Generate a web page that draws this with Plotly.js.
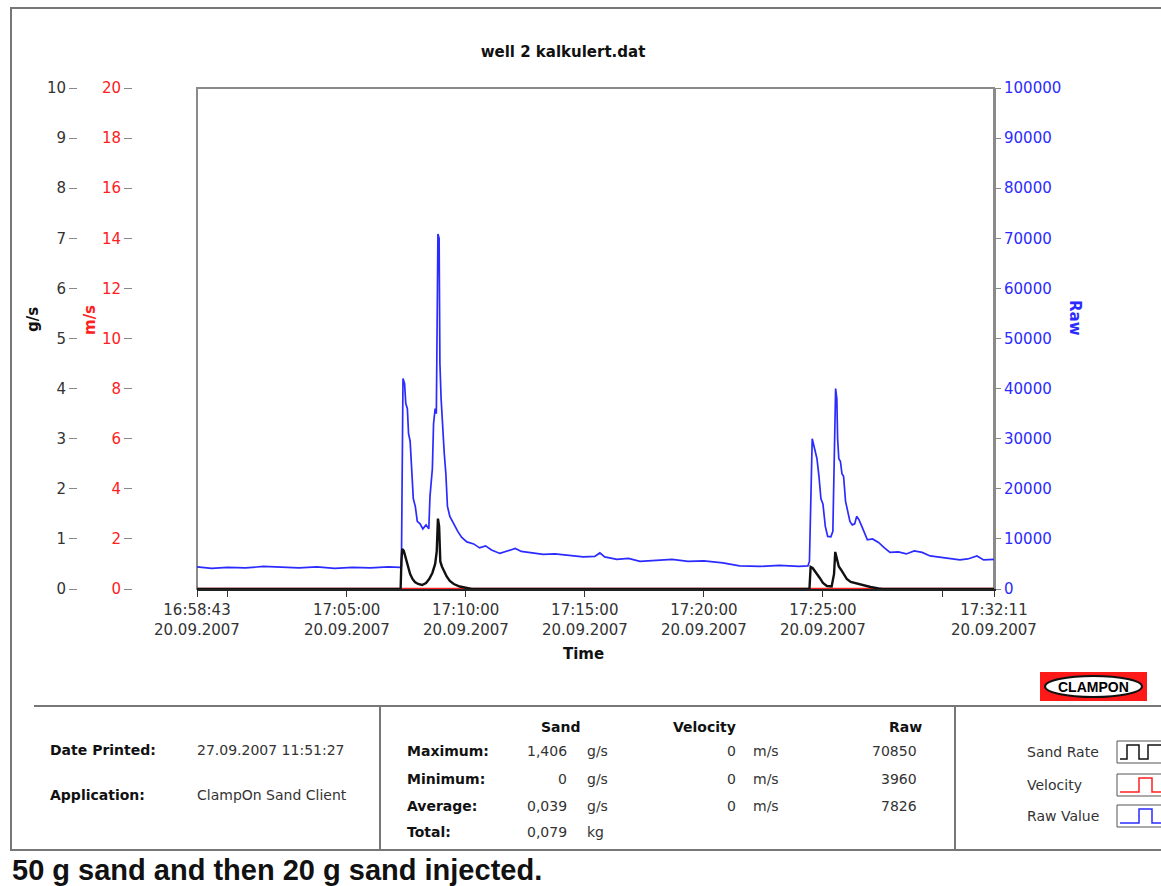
<!DOCTYPE html>
<html><head><meta charset="utf-8">
<script src="https://cdn.plot.ly/plotly-3.0.1.min.js"></script>
<style>body{margin:0;background:#fff}#chart{width:1161px;height:886px}</style>
</head><body><div id="chart"></div>
<script>
const DAY = '2007-09-20 ';
const chartTitle = 'well 2 kalkulert.dat';
const caption = '50 g sand and then 20 g sand injected.';

const rawTimes = ['16:58:43','16:59:20','17:00:00','17:00:45','17:01:30','17:02:15','17:03:00','17:03:45','17:04:30','17:05:15','17:06:00','17:06:45','17:07:15','17:07:18','17:07:20','17:07:22','17:07:26','17:07:29','17:07:33','17:07:36','17:07:40','17:07:44','17:07:48','17:07:53','17:07:58','17:08:05','17:08:12','17:08:20','17:08:27','17:08:30','17:08:36','17:08:39','17:08:43','17:08:46','17:08:48','17:08:50','17:08:53','17:08:55','17:08:58','17:09:02','17:09:06','17:09:10','17:09:14','17:09:20','17:09:26','17:09:33','17:09:40','17:09:50','17:10:03','17:10:20','17:10:35','17:10:50','17:11:05','17:11:26','17:11:45','17:12:05','17:12:20','17:12:50','17:13:15','17:13:45','17:14:15','17:14:56','17:15:25','17:15:38','17:15:50','17:16:21','17:16:50','17:17:19','17:18:00','17:18:40','17:19:20','17:20:00','17:20:48','17:21:30','17:22:21','17:23:10','17:24:00','17:24:22','17:24:26','17:24:30','17:24:33','17:24:36','17:24:40','17:24:45','17:24:50','17:24:55','17:25:00','17:25:06','17:25:12','17:25:20','17:25:25','17:25:29','17:25:32','17:25:35','17:25:37','17:25:40','17:25:44','17:25:48','17:25:52','17:25:57','17:26:02','17:26:08','17:26:14','17:26:20','17:26:25','17:26:31','17:26:38','17:26:45','17:26:52','17:27:05','17:27:20','17:27:35','17:27:49','17:28:10','17:28:30','17:28:50','17:29:10','17:29:30','17:30:03','17:30:25','17:30:45','17:31:05','17:31:28','17:31:45','17:32:11'];
const rawValues = [4400,4100,4300,4200,4500,4300,4200,4400,4100,4300,4200,4400,4300,4500,39000,42000,41000,37000,36000,31000,29500,24000,18000,16500,13500,13000,12000,12800,12000,18500,24000,33000,36000,35000,60000,70850,70000,45000,38000,31500,27000,23000,16500,14500,13500,12500,11500,10300,9400,9000,8200,8600,7800,7100,7600,8100,7500,7200,6900,7000,6700,6400,6500,7200,6400,5900,6100,5500,5700,5900,5500,5600,5200,4600,4500,4700,4500,4600,5500,18000,30000,29000,27500,26000,22500,18000,17000,12500,10500,10400,11500,25000,40000,38000,30000,26000,25500,23000,22500,17500,15800,13500,12800,13000,14500,13800,12500,11000,9800,10000,9300,8200,7300,7400,7000,7600,7300,6600,6200,6000,5800,6000,6600,5800,5900];

const sandTimes = ['16:58:43','17:07:16','17:07:18','17:07:20','17:07:24','17:07:29','17:07:34','17:07:40','17:07:46','17:07:52','17:08:00','17:08:10','17:08:20','17:08:28','17:08:36','17:08:43','17:08:47','17:08:50','17:08:53','17:08:56','17:09:00','17:09:06','17:09:12','17:09:20','17:09:30','17:09:45','17:10:05','17:10:15','17:24:26','17:24:29','17:24:34','17:24:40','17:24:46','17:24:52','17:25:00','17:25:10','17:25:22','17:25:28','17:25:31','17:25:35','17:25:40','17:25:46','17:25:52','17:26:00','17:26:10','17:26:20','17:26:32','17:26:45','17:27:00','17:27:20','17:27:30','17:32:11'];
const sandValues = [0,0,0.55,0.80,0.76,0.6,0.45,0.3,0.2,0.14,0.1,0.08,0.12,0.2,0.32,0.5,0.75,1.406,1.25,0.55,0.45,0.33,0.25,0.16,0.1,0.05,0.02,0,0,0.44,0.42,0.36,0.3,0.22,0.12,0.06,0.05,0.3,0.74,0.6,0.45,0.38,0.3,0.2,0.14,0.12,0.1,0.06,0.04,0.01,0,0];

const velocityTimes = ['16:58:43','17:32:11'];
const velocityValues = [0,0];

const tickTimes = ['16:58:43','17:00:00','17:05:00','17:10:00','17:15:00','17:20:00','17:25:00','17:30:00','17:32:11'];
const tickTimeLabels = ['16:58:43','','17:05:00','17:10:00','17:15:00','17:20:00','17:25:00','','17:32:11'];
const tickDateLabels = ['20.09.2007','','20.09.2007','20.09.2007','20.09.2007','20.09.2007','20.09.2007','','20.09.2007'];

const infoLabels = ['Date Printed:','Application:'];
const infoValues = ['27.09.2007 11:51:27','ClampOn Sand Client'];
const statHeaders = ['Sand','Velocity','Raw'];
const statRows = ['Maximum:','Minimum:','Average:','Total:'];
const sandStats = ['1,406','0','0,039','0,079'];
const sandUnits = ['g/s','g/s','g/s','kg'];
const velocityStats = ['0','0','0'];
const velocityUnits = ['m/s','m/s','m/s'];
const rawStats = ['70850','3960','7826'];
const legendNames = ['Sand Rate','Velocity','Raw Value'];

const BLUE = '#2b2bff', RED = '#ff2020', BLACK = '#111111';
const W = 1161, H = 886, T = 88, B = 589;
const px = x => x / W;
const py = y => (B - y) / (B - T);
const FONT = 'DejaVu Sans';

const traces = [
  {x: rawTimes.map(t => DAY + t), y: rawValues, type: 'scatter', mode: 'lines', yaxis: 'y', line: {color: BLUE, width: 1.7}, name: 'Raw Value'},
  {x: velocityTimes.map(t => DAY + t), y: velocityValues, type: 'scatter', mode: 'lines', yaxis: 'y2', line: {color: RED, width: 2.4}, name: 'Velocity'},
  {x: sandTimes.map(t => DAY + t), y: sandValues, type: 'scatter', mode: 'lines', yaxis: 'y3', line: {color: BLACK, width: 2.4}, name: 'Sand Rate'}
];

const ann = [];
const shapes = [];
function txt(x, y, text, o) {
  o = o || {};
  ann.push(Object.assign({x: px(x), y: py(y), xref: 'paper', yref: 'paper', text: text, showarrow: false,
    xanchor: o.xa || 'left', yanchor: 'middle',
    font: {family: o.family || FONT, size: o.size || 14, color: o.color || '#333'}}, o.extra || {}));
}
txt(33, 320, '<b>g/s</b>', {xa: 'center', size: 15, color: '#111', extra: {textangle: -90}});
txt(90, 320, '<b>m/s</b>', {xa: 'center', size: 15, color: RED, extra: {textangle: -90}});
txt(1075, 318, '<b>Raw</b>', {xa: 'center', size: 15, color: BLUE, extra: {textangle: 90}});
txt(583, 654, '<b>Time</b>', {xa: 'center', size: 15, color: '#111'});
tickTimes.forEach((t, i) => {
  if (tickDateLabels[i]) ann.push({x: DAY + t, xref: 'x', y: py(630), yref: 'paper', text: tickDateLabels[i], showarrow: false,
    xanchor: 'center', yanchor: 'middle', font: {family: FONT, size: 15, color: '#333'}});
});
infoLabels.forEach((s, i) => txt(48, [750, 795][i], '<b>' + s + '</b>', {color: '#111'}));
infoValues.forEach((s, i) => txt(195, [750, 795][i], s));
[561, 704, 905].forEach((x, i) => txt(x, 727, '<b>' + statHeaders[i] + '</b>', {xa: 'center', color: '#111'}));
const rowY = [751, 779, 806, 832];
statRows.forEach((s, i) => txt(405, rowY[i], '<b>' + s + '</b>', {color: '#111'}));
sandStats.forEach((s, i) => txt(569, rowY[i], s, {xa: 'right'}));
sandUnits.forEach((s, i) => txt(585, rowY[i], s));
velocityStats.forEach((s, i) => txt(738, rowY[i], s, {xa: 'right'}));
velocityUnits.forEach((s, i) => txt(751, rowY[i], s));
rawStats.forEach((s, i) => txt(919, rowY[i], s, {xa: 'right'}));
const legY = [752, 785, 816];
const legCol = [BLACK, RED, BLUE];
legendNames.forEach((s, i) => {
  txt(1025, legY[i], s);
  const y0 = legY[i] - 11, y1 = legY[i] + 11;
  shapes.push({type: 'rect', xref: 'paper', yref: 'paper', x0: px(1117), x1: px(1175), y0: py(y1), y1: py(y0), line: {color: '#555', width: 1}});
  const lo = y1 - 4, hi = y0 + 4;
  const pts = i === 0
    ? [[1120, lo], [1127, lo], [1127, hi], [1139, hi], [1139, lo], [1148, lo], [1148, hi], [1162, hi]]
    : [[1120, lo], [1139, lo], [1139, hi], [1152, hi], [1152, lo], [1162, lo]];
  shapes.push({type: 'path', xref: 'paper', yref: 'paper', path: pts.map((p, k) => (k ? 'L' : 'M') + px(p[0]) + ',' + py(p[1])).join(' '),
    line: {color: legCol[i], width: 1.5}});
});
txt(10, 870, '<b>' + caption + '</b>', {family: 'Liberation Sans', size: 29, color: '#111'});
shapes.push({type: 'rect', xref: 'paper', yref: 'paper', x0: px(1040), x1: px(1147), y0: py(701), y1: py(672), fillcolor: '#ff1a1a', line: {width: 0}});
shapes.push({type: 'circle', xref: 'paper', yref: 'paper', x0: px(1045), x1: px(1142), y0: py(697), y1: py(676), fillcolor: '#ffffff', line: {color: '#111', width: 2}});
txt(1093, 686.5, '<b>CLAMPON</b>', {xa: 'center', family: 'Liberation Sans', size: 14, color: '#000'});
shapes.push({type: 'rect', xref: 'paper', yref: 'paper', x0: px(197), x1: px(994), y0: 0, y1: 1, line: {color: '#8a8a8a', width: 2}, layer: 'below'});
shapes.push({type: 'rect', xref: 'paper', yref: 'paper', x0: px(11), x1: px(1180), y0: py(850), y1: py(8), line: {color: '#777', width: 2}});
shapes.push({type: 'line', xref: 'paper', yref: 'paper', x0: px(34), x1: px(1180), y0: py(706), y1: py(706), line: {color: '#777', width: 2}});
shapes.push({type: 'line', xref: 'paper', yref: 'paper', x0: px(380), x1: px(380), y0: py(706), y1: py(850), line: {color: '#777', width: 2}});
shapes.push({type: 'line', xref: 'paper', yref: 'paper', x0: px(955), x1: px(955), y0: py(706), y1: py(850), line: {color: '#777', width: 2}});

const tickFont = c => ({family: FONT, size: 15, color: c});
const layout = {
  width: W, height: H,
  margin: {l: 0, r: 0, t: T, b: H - B, pad: 0},
  paper_bgcolor: '#fff', plot_bgcolor: '#fff',
  showlegend: false,
  title: {text: '<b>' + chartTitle + '</b>', x: px(563), xanchor: 'center', xref: 'paper', y: 1 - 52 / H, yanchor: 'middle', yref: 'container',
    font: {family: FONT, size: 15, color: '#111'}},
  xaxis: {type: 'date', domain: [px(197), px(994)], anchor: 'y',
    range: [DAY + tickTimes[0], DAY + tickTimes[tickTimes.length - 1]],
    tickmode: 'array', tickvals: tickTimes.map(t => DAY + t), ticktext: tickTimeLabels,
    ticks: 'outside', ticklen: 6, tickwidth: 1, tickcolor: '#333', tickfont: tickFont('#333'),
    showline: true, linecolor: '#222', linewidth: 2, showgrid: false, zeroline: false, layer: 'below traces', fixedrange: true},
  yaxis: {range: [0, 100000], side: 'right', anchor: 'x', tickmode: 'linear', tick0: 0, dtick: 10000, tickformat: 'd',
    ticks: 'outside', ticklen: 5, tickcolor: '#888', tickfont: tickFont(BLUE),
    showline: true, linecolor: '#8a8a8a', linewidth: 2, showgrid: false, zeroline: false},
  yaxis2: {range: [0, 20], overlaying: 'y', anchor: 'free', position: px(132), side: 'left', tickmode: 'linear', tick0: 0, dtick: 2,
    ticks: 'outside', ticklen: 8, tickcolor: '#888', tickfont: tickFont(RED), showline: false, showgrid: false, zeroline: false},
  yaxis3: {range: [0, 10], overlaying: 'y', anchor: 'free', position: px(77), side: 'left', tickmode: 'linear', tick0: 0, dtick: 1,
    ticks: 'outside', ticklen: 8, tickcolor: '#888', tickfont: tickFont('#333'), showline: false, showgrid: false, zeroline: false},
  annotations: ann,
  shapes: shapes
};
Plotly.newPlot('chart', traces, layout, {staticPlot: true, displayModeBar: false});
</script>
</body></html>
